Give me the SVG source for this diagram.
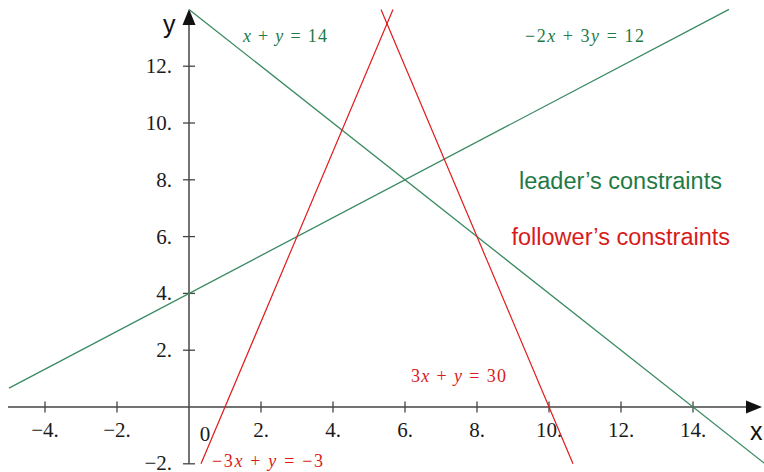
<svg xmlns="http://www.w3.org/2000/svg" width="764" height="472" viewBox="0 0 764 472">
<style>
.ax{stroke:#444;stroke-width:1.5;fill:none}
.tk{stroke:#444;stroke-width:1.3}
.lbl{font-family:"Liberation Serif","Times New Roman",serif;font-size:21px;fill:#1a1a1a}
.eq{font-family:"Liberation Serif","Times New Roman",serif;font-size:18px}
.eq .v{font-style:italic}
.g{stroke:#3a8a62;stroke-width:1.3;fill:none}
.r{stroke:#e01b1b;stroke-width:1.2;fill:none}
.gt{fill:#1f7a45}
.rt{fill:#d81b1b}
.leg{font-family:"Liberation Sans",Arial,sans-serif;font-size:23.5px}
.axl{font-family:"Liberation Sans",Arial,sans-serif;font-size:25px;fill:#111}
</style>
<rect width="764" height="472" fill="#fff"/>
<g id="axes">
<line class="ax" x1="8" y1="407" x2="748" y2="407"/>
<polygon points="762,407 746,400.5 746,413.5" fill="#111"/>
<line class="ax" x1="189" y1="463.8" x2="189" y2="24"/>
<polygon points="189,9 182.5,25 195.5,25" fill="#111"/>
<g class="tk">
<line x1="45" y1="401.5" x2="45" y2="412.5"/>
<line x1="117" y1="401.5" x2="117" y2="412.5"/>
<line x1="261" y1="401.5" x2="261" y2="412.5"/>
<line x1="333" y1="401.5" x2="333" y2="412.5"/>
<line x1="405" y1="401.5" x2="405" y2="412.5"/>
<line x1="477" y1="401.5" x2="477" y2="412.5"/>
<line x1="549" y1="401.5" x2="549" y2="412.5"/>
<line x1="621" y1="401.5" x2="621" y2="412.5"/>
<line x1="693" y1="401.5" x2="693" y2="412.5"/>
<line x1="183" y1="463.8" x2="195" y2="463.8"/>
<line x1="183" y1="350.2" x2="195" y2="350.2"/>
<line x1="183" y1="293.4" x2="195" y2="293.4"/>
<line x1="183" y1="236.6" x2="195" y2="236.6"/>
<line x1="183" y1="179.8" x2="195" y2="179.8"/>
<line x1="183" y1="123" x2="195" y2="123"/>
<line x1="183" y1="66.2" x2="195" y2="66.2"/>
</g>
<g class="lbl" text-anchor="middle">
<text x="45" y="437">−4.</text>
<text x="117" y="437">−2.</text>
<text x="261" y="437">2.</text>
<text x="333" y="437">4.</text>
<text x="405" y="437">6.</text>
<text x="477" y="437">8.</text>
<text x="549" y="437">10.</text>
<text x="621" y="437">12.</text>
<text x="693" y="437">14.</text>
<text x="205" y="441">0</text>
</g>
<g class="lbl" text-anchor="end">
<text x="172" y="469.5">−2.</text>
<text x="172" y="357.2">2.</text>
<text x="172" y="300.4">4.</text>
<text x="172" y="243.6">6.</text>
<text x="172" y="186.8">8.</text>
<text x="172" y="130">10.</text>
<text x="172" y="73.2">12.</text>
</g>
<text class="axl" x="750" y="440">x</text>
<text class="axl" x="163" y="33">y</text>
</g>
<g id="connectors">
<line id="l1" class="g" x1="189" y1="9.4" x2="765" y2="463.8"/>
<line id="l2" class="g" x1="9" y1="388.1" x2="729" y2="9.4"/>
<line id="l3" class="r" x1="381" y1="9.4" x2="573" y2="463.8"/>
<line id="l4" class="r" x1="201" y1="463.8" x2="393" y2="9.4"/>
</g>
<g id="labels">
<text class="eq gt" x="243" y="42" textLength="84" lengthAdjust="spacing"><tspan class="v">x</tspan> + <tspan class="v">y</tspan> = 14</text>
<text class="eq gt" x="525" y="42" textLength="119" lengthAdjust="spacing">−2<tspan class="v">x</tspan> + 3<tspan class="v">y</tspan> = 12</text>
<text class="eq rt" x="411" y="382" textLength="95" lengthAdjust="spacing">3<tspan class="v">x</tspan> + <tspan class="v">y</tspan> = 30</text>
<text class="eq rt" x="212" y="467.3" textLength="111" lengthAdjust="spacing">−3<tspan class="v">x</tspan> + <tspan class="v">y</tspan> = −3</text>
<text class="leg gt" x="519" y="188.5">leader’s constraints</text>
<text class="leg rt" x="511.5" y="244.5">follower’s constraints</text>
</g>
</svg>
